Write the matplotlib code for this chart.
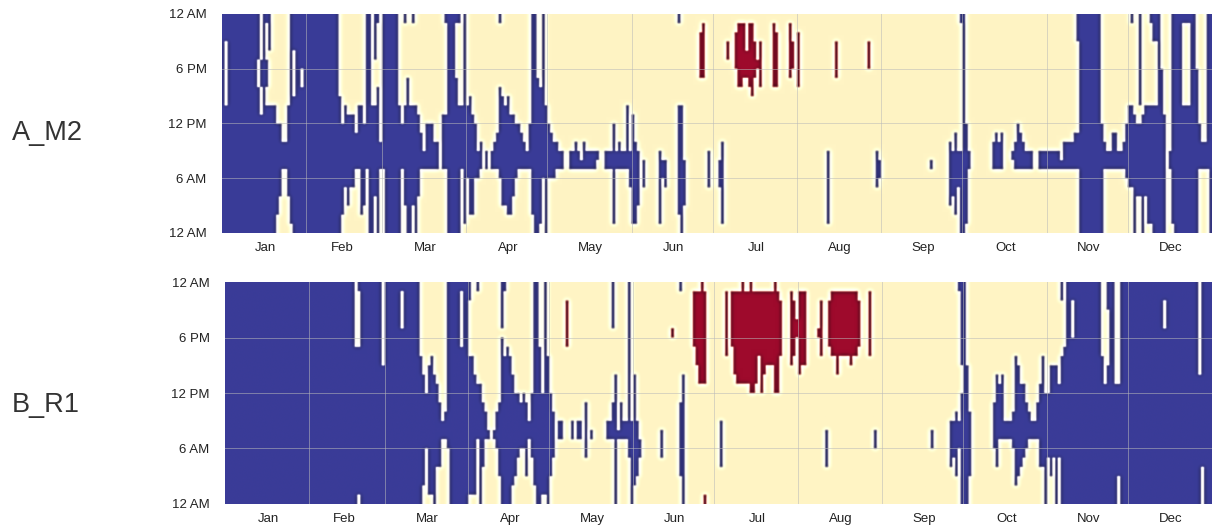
import numpy as np
import matplotlib
matplotlib.use("Agg")
import matplotlib.pyplot as plt

plt.rcParams['font.family'] = ['Liberation Sans', 'DejaVu Sans']

MONTHS = ["Jan", "Feb", "Mar", "Apr", "May", "Jun", "Jul", "Aug", "Sep", "Oct", "Nov", "Dec"]
MONTH_DAYS = [31, 28, 31, 30, 31, 30, 31, 31, 30, 31, 30, 31]
HOUR_LABELS = ["12 AM", "6 PM", "12 PM", "6 AM", "12 AM"]
PANELS = ["A_M2", "B_R1"]

# (first day, last day exclusive, [hour rows counted from the top of the panel])
A_M2_COOL = [
 (0,1,[(0,24)]),(1,2,[(0,3),(10,24)]),(2,13,[(0,24)]),(13,14,[(0,5),(8,24)]),(14,15,[(5,8),(11,24)]),
 (15,16,[(0,24)]),(16,17,[(0,1),(5,8),(10,24)]),(17,18,[(0,4),(10,24)]),(18,20,[(10,24)]),(20,21,[(12,22)]),
 (21,22,[(12,20)]),(22,24,[(14,17)]),(24,25,[(10,20)]),(25,26,[(0,23)]),(26,27,[(0,4),(9,24)]),(27,29,[(0,24)]),
 (29,30,[(0,6),(8,24)]),(30,43,[(0,24)]),(43,44,[(9,24)]),(44,45,[(12,22)]),(45,46,[(10,19)]),(46,47,[(11,21)]),
 (47,49,[(11,19)]),(49,50,[(13,17)]),(50,51,[(10,17)]),(51,52,[(10,22)]),(52,53,[(12,21)]),(53,54,[(0,17)]),
 (54,55,[(0,24)]),(55,56,[(10,24)]),(56,57,[(0,5),(10,20)]),(57,58,[(0,1),(8,24)]),(58,59,[(14,17)]),
 (59,60,[(0,17)]),(60,65,[(0,24)]),(65,66,[(10,24)]),(66,67,[(12,17)]),(67,68,[(0,1),(10,21)]),(68,69,[(7,24)]),
 (69,70,[(10,24)]),(70,71,[(0,1),(10,21)]),(71,72,[(10,24)]),(72,73,[(11,20)]),(73,74,[(13,17)]),(74,75,[(15,17)]),
 (75,78,[(12,17)]),(78,80,[(14,17)]),(81,82,[(11,17)]),(82,83,[(0,1),(11,17)]),(83,86,[(0,24)]),(86,87,[(0,1),(7,24)]),
 (87,88,[(0,1),(10,24)]),(88,89,[(10,17)]),(89,90,[(0,23)]),(90,91,[(10,18)]),(91,92,[(9,22)]),(92,93,[(11,22)]),
 (93,94,[(12,18)]),(94,95,[(15,18)]),(95,96,[(14,17)]),(97,98,[(15,17)]),(99,100,[(15,17)]),(100,101,[(14,17)]),
 (101,102,[(13,17)]),(102,103,[(0,1),(8,18)]),(103,104,[(9,21)]),(104,105,[(10,21)]),(105,106,[(9,22)]),
 (106,107,[(11,22)]),(107,108,[(11,20)]),(108,109,[(12,18)]),(109,110,[(12,17)]),(110,111,[(13,17)]),
 (111,112,[(14,17)]),(112,113,[(15,17)]),(113,114,[(12,17)]),(114,115,[(0,22)]),(115,116,[(0,24)]),(116,117,[(7,24)]),
 (117,118,[(8,23)]),(118,119,[(0,18)]),(119,120,[(10,24)]),(120,121,[(12,18)]),(121,122,[(13,18)]),(122,123,[(14,18)]),
 (123,124,[(14,17)]),(124,126,[(15,17)]),(128,130,[(15,17)]),(130,131,[(14,17)]),(131,132,[(15,17)]),(132,133,[(16,17)]),
 (133,134,[(14,17)]),(134,138,[(15,17)]),(138,139,[(15,16)]),(141,144,[(15,17)]),(144,145,[(12,23)]),(145,146,[(15,17)]),
 (146,147,[(14,17)]),(147,149,[(15,17)]),(149,150,[(10,17)]),(150,151,[(15,19)]),(151,152,[(11,23)]),(152,153,[(14,23)]),
 (153,154,[(15,21)]),(155,156,[(16,19)]),(161,162,[(15,23)]),(162,163,[(16,18)]),(163,164,[(16,19)]),
 (168,169,[(0,1),(10,22)]),(169,170,[(10,24)]),(170,171,[(16,21)]),(179,180,[(15,19)]),(183,184,[(16,19)]),
 (184,185,[(14,23)]),(223,224,[(15,23)]),(241,242,[(15,19)]),(242,243,[(16,18)]),(261,262,[(16,17)]),
 (268,269,[(14,21)]),(269,270,[(15,20)]),(270,271,[(13,22)]),(271,272,[(15,19)]),(272,273,[(0,1),(15,24)]),
 (273,274,[(0,24)]),(274,275,[(12,23)]),(275,276,[(15,17)]),(284,285,[(14,17)]),(285,286,[(13,17)]),(286,287,[(14,17)]),
 (287,288,[(13,17)]),(291,292,[(15,16)]),(292,293,[(14,17)]),(293,294,[(12,17)]),(294,295,[(13,17)]),(295,296,[(14,17)]),
 (296,299,[(15,17)]),(301,309,[(15,17)]),(309,310,[(16,17)]),(310,314,[(14,17)]),(314,315,[(13,17)]),
 (315,316,[(0,3),(13,17)]),(316,324,[(0,24)]),(324,325,[(12,24)]),(325,326,[(14,17)]),(326,328,[(15,17)]),
 (328,330,[(13,17)]),(330,332,[(15,17)]),(332,333,[(14,17)]),(333,334,[(12,18)]),(334,335,[(10,19)]),
 (335,336,[(0,1),(10,19)]),(336,337,[(11,24)]),(337,338,[(12,20)]),(338,339,[(0,10),(12,20)]),(339,340,[(11,24)]),
 (340,341,[(10,20)]),(341,342,[(10,23)]),(342,343,[(0,1),(10,23)]),(343,344,[(0,3),(10,24)]),(344,345,[(0,3),(10,24)]),
 (345,346,[(0,24)]),(346,347,[(6,24)]),(347,348,[(11,24)]),(349,350,[(15,17)]),(350,351,[(0,23)]),(351,354,[(0,24)]),
 (354,357,[(0,1),(10,24)]),(357,359,[(0,24)]),(359,360,[(6,24)]),(360,361,[(12,17)]),(361,363,[(14,17)]),
 (363,364,[(0,17)]),(364,365,[(0,24)]),
]
A_M2_WARM = [
 (176,177,[(2,7)]),(177,178,[(1,7)]),(186,187,[(3,5)]),(189,190,[(2,6)]),(190,192,[(1,8)]),(192,193,[(1,7)]),
 (193,194,[(4,7)]),(194,195,[(1,8)]),(195,196,[(1,9)]),(196,197,[(3,7)]),(197,198,[(5,6)]),(198,199,[(3,8)]),
 (203,204,[(1,8)]),(204,205,[(2,8)]),(209,210,[(1,7)]),(210,211,[(3,6)]),(212,213,[(2,8)]),(226,227,[(3,7)]),
 (238,239,[(3,6)]),
]
B_R1_COOL = [
 (0,48,[(0,24)]),(48,49,[(7,24)]),(49,50,[(0,1),(7,23)]),(50,58,[(0,24)]),(58,59,[(9,24)]),(59,65,[(0,24)]),
 (65,66,[(0,1),(5,24)]),(66,72,[(0,24)]),(72,73,[(8,24)]),(73,74,[(10,22)]),(74,75,[(12,18)]),(75,76,[(9,23)]),
 (76,77,[(8,23)]),(77,78,[(10,24)]),(78,79,[(11,20)]),(79,80,[(13,20)]),(80,81,[(15,17)]),(81,82,[(14,17)]),
 (82,83,[(0,18)]),(83,87,[(0,24)]),(87,88,[(0,1),(7,24)]),(88,90,[(0,24)]),(90,91,[(0,2),(8,23)]),(91,92,[(8,23)]),
 (92,93,[(10,23)]),(93,94,[(0,1),(11,17)]),(94,95,[(11,24)]),(95,96,[(13,20)]),(96,97,[(14,17)]),(97,98,[(16,17)]),
 (99,100,[(16,17)]),(100,101,[(14,18)]),(101,102,[(13,21)]),(102,103,[(0,5),(6,24)]),(103,104,[(0,1),(8,24)]),
 (104,105,[(7,24)]),(105,106,[(8,24)]),(106,107,[(10,22)]),(107,108,[(12,21)]),(108,109,[(12,19)]),(109,110,[(13,18)]),
 (110,111,[(12,18)]),(111,112,[(13,21)]),(112,113,[(15,17)]),(113,114,[(12,19)]),(114,115,[(0,22)]),(115,116,[(0,24)]),
 (116,117,[(7,24)]),(117,118,[(12,23)]),(118,119,[(0,23)]),(119,120,[(8,24)]),(120,121,[(12,21)]),(121,122,[(14,19)]),
 (123,125,[(15,17)]),(128,129,[(15,17)]),(130,132,[(15,17)]),(133,134,[(13,19)]),(135,136,[(16,17)]),(141,143,[(15,17)]),
 (143,144,[(0,5),(13,17)]),(144,145,[(10,24)]),(145,146,[(16,17)]),(146,147,[(13,17)]),(147,149,[(15,17)]),
 (149,150,[(0,19)]),(150,151,[(15,24)]),(151,152,[(10,22)]),(152,153,[(15,21)]),(153,154,[(17,19)]),(161,162,[(16,19)]),
 (168,169,[(0,1),(13,21)]),(169,170,[(10,24)]),(183,184,[(15,20)]),(222,223,[(16,20)]),(240,241,[(16,18)]),
 (261,262,[(16,18)]),(268,269,[(15,20)]),(269,270,[(15,19)]),(270,271,[(14,21)]),(271,272,[(0,1),(15,18)]),
 (272,273,[(0,9),(12,24)]),(273,274,[(0,24)]),(274,275,[(9,24)]),(275,276,[(14,21)]),(284,285,[(13,18)]),
 (285,286,[(10,20)]),(286,287,[(11,17)]),(287,288,[(10,17)]),(288,291,[(15,17)]),(291,292,[(14,18)]),(292,293,[(8,22)]),
 (293,294,[(9,21)]),(294,295,[(11,20)]),(295,296,[(11,19)]),(296,297,[(13,18)]),(297,298,[(14,17)]),(298,300,[(15,17)]),
 (300,301,[(13,17)]),(301,302,[(11,20)]),(302,303,[(8,20)]),(303,304,[(12,24)]),(304,305,[(12,19)]),(305,306,[(9,21)]),
 (306,307,[(9,19)]),(307,308,[(9,24)]),(308,309,[(11,19)]),(309,310,[(0,2),(8,24)]),(310,311,[(7,24)]),(311,313,[(0,24)]),
 (313,314,[(0,2),(6,24)]),(314,324,[(0,24)]),(324,325,[(8,24)]),(325,326,[(11,24)]),(326,327,[(0,3),(9,24)]),
 (327,329,[(0,24)]),(329,330,[(11,24)]),(330,331,[(11,21)]),(331,347,[(0,24)]),(347,348,[(0,2),(5,24)]),
 (348,360,[(0,24)]),(360,361,[(10,24)]),(361,362,[(0,20)]),(362,365,[(0,24)]),
]
B_R1_WARM = [
 (126,127,[(2,7)]),(165,166,[(5,6)]),(173,174,[(1,7)]),(174,175,[(1,9)]),(175,176,[(1,11)]),(176,177,[(0,11)]),
 (177,178,[(1,11),(23,24)]),(185,186,[(1,8)]),(187,188,[(1,7)]),(188,189,[(1,10)]),(189,191,[(1,11)]),(191,192,[(0,11)]),
 (192,194,[(1,11)]),(194,195,[(0,12)]),(195,196,[(1,12)]),(196,197,[(1,11)]),(197,198,[(1,8)]),(198,199,[(1,12)]),
 (199,200,[(1,10)]),(200,203,[(1,9)]),(203,204,[(0,12)]),(204,205,[(1,12)]),(205,206,[(2,8)]),(209,210,[(1,9)]),
 (210,211,[(2,8)]),(211,212,[(4,6)]),(212,213,[(1,10)]),(213,215,[(1,9)]),(219,220,[(5,6)]),(220,221,[(2,8)]),
 (223,224,[(2,7)]),(224,226,[(1,8)]),(226,227,[(1,10)]),(227,231,[(1,8)]),(231,232,[(1,9)]),(232,234,[(1,8)]),
 (234,235,[(2,7)]),(238,239,[(1,8)]),
]

CREAM = np.array([255, 244, 196]) / 255
BLUE = np.array([58, 60, 152]) / 255
RED = np.array([158, 10, 44]) / 255


def build_matrix(cool, warm):
    m = np.zeros((24, 365), dtype=int)
    for blocks, value in ((cool, 1), (warm, 2)):
        for d0, d1, runs in blocks:
            for r0, r1 in runs:
                m[r0:r1, d0:d1] = value
    return m


def gauss(img, sx, sy):
    for axis, s in ((0, sy), (1, sx)):
        n = int(3 * s) + 1
        k = np.exp(-0.5 * (np.arange(-n, n + 1) / s) ** 2)
        k /= k.sum()
        pad = [(n, n) if a == axis else (0, 0) for a in range(3)]
        p = np.pad(img, pad, mode="edge")
        img = np.apply_along_axis(lambda v: np.convolve(v, k, mode="valid"), axis, p)
    return img


def rendered(m, ax_w, ax_h):
    ux, uy = 4, 12
    rgb = np.array([CREAM, BLUE, RED])[m]
    rgb = np.repeat(np.repeat(rgb, uy, axis=0), ux, axis=1)
    sx = ux * 365 / ax_w
    sy = uy * 24 / ax_h
    soft = gauss(rgb, 0.75 * sx, 0.75 * sy)
    wide = gauss(rgb, 2.0 * sx, 2.0 * sy)
    lum_soft = soft @ np.array([0.3, 0.59, 0.11])
    lum_wide = wide @ np.array([0.3, 0.59, 0.11])
    diff = lum_soft - lum_wide
    gain = np.where(diff > 0, 1.6, 0.45)
    ratio = (lum_soft + gain * diff) / lum_soft
    bright = soft * ratio[..., None]
    # push the light side of an edge towards white rather than a stronger cream
    white = np.clip(np.where(diff > 0, diff * 3.0, 0), 0, 1)[..., None]
    return np.clip(bright + white * (1 - bright), 0, 1)


fig = plt.figure(figsize=(12.12, 5.26), dpi=100)
W, H = 1212, 526
BOXES = [(222, 14, 1212, 232.7), (225, 282.3, 1212, 503.7)]
MATRICES = [build_matrix(A_M2_COOL, A_M2_WARM), build_matrix(B_R1_COOL, B_R1_WARM)]
LABEL_Y = [133, 405]

edges = np.concatenate([[0], np.cumsum(MONTH_DAYS)])
centers = (edges[:-1] + edges[1:]) / 2 + 0.4
centers[1] -= 1.2

for (x0, y0, x1, y1), m, name, ly in zip(BOXES, MATRICES, PANELS, LABEL_Y):
    ax = fig.add_axes([x0 / W, 1 - y1 / H, (x1 - x0) / W, (y1 - y0) / H])
    ax.imshow(rendered(m, x1 - x0, y1 - y0), extent=(0, 365, 0, 24), aspect="auto",
              interpolation="bilinear", zorder=1)
    ax.set_xlim(0, 365)
    ax.set_ylim(0, 24)
    ax.set_xticks(centers, MONTHS)
    ax.set_yticks([24, 18, 12, 6, 0], HOUR_LABELS)
    ax.tick_params(length=0, labelsize=9.5, colors="#222222")
    ax.tick_params(axis="x", pad=6.5)
    ax.tick_params(axis="y", pad=11)
    for s in ax.spines.values():
        s.set_visible(False)
    for e in edges[1:-1]:
        ax.axvline(e, color="#b9b9b9", alpha=0.55, lw=0.7, zorder=2)
    for h in (6, 12, 18):
        ax.axhline(h, color="#b9b9b9", alpha=0.55, lw=0.7, zorder=2)
    fig.text(12 / W, 1 - ly / H, name, fontsize=19.5, color="#333333", va="center", ha="left")

fig.savefig("out.png", dpi=100)
